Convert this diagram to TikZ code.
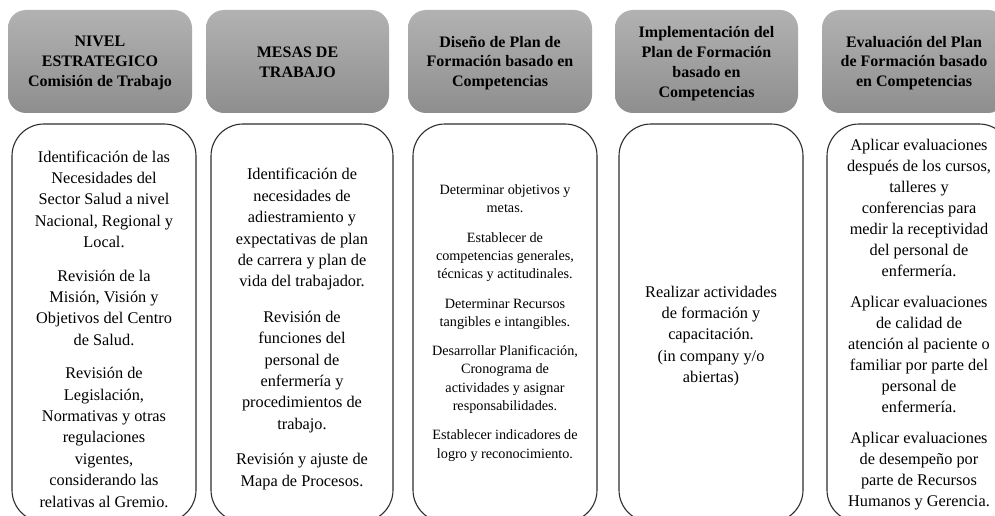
\documentclass[tikz,border=0pt]{standalone}
\usepackage{fontspec}
\setmainfont{Liberation Serif}
\definecolor{htop}{HTML}{B2B2B2}
\definecolor{hbot}{HTML}{8E8E8E}
\definecolor{edge}{HTML}{2E2E2E}
\tikzset{
  hdr/.style={rounded corners=18pt, top color=htop, bottom color=hbot, draw=none,
    minimum width=184pt, minimum height=103pt, inner sep=0pt},
  htext/.style={align=center, inner sep=0pt, font=\fontsize{16}{19.8}\selectfont\bfseries},
  cbox/.style={rounded corners=32pt, draw=edge, line width=1.1pt, fill=white,
    minimum width=184pt, minimum height=398pt, inner sep=0pt},
  ctext/.style={align=center, inner sep=0pt, font=\fontsize{16.3}{21.4}\selectfont},
  csmall/.style={align=center, inner sep=0pt, font=\fontsize{14.2}{18.3}\selectfont}
}
\begin{document}
\begin{tikzpicture}[x=1pt,y=-1pt]
\useasboundingbox (0,0) rectangle (995,516);
% headers
\node[hdr] (h1) at (100,61.5) {};
\node[hdr, minimum width=183pt] (h2) at (297.5,61.5) {};
\node[hdr] (h3) at (500,61.5) {};
\node[hdr, minimum width=183pt] (h4) at (706.5,61.5) {};
\node[hdr] (h5) at (914,61.5) {};
\node[htext] (h1t) at (100,63) {NIVEL\\ESTRATEGICO\\Comisión de Trabajo};
\node[htext] (h2t) at (297.5,62) {MESAS DE\\TRABAJO};
\node[htext] (h3t) at (500,63) {Diseño de Plan de\\Formación basado en\\Competencias};
\node[htext] (h4t) at (706.5,63.5) {Implementación del\\Plan de Formación\\basado en\\Competencias};
\node[htext] (h5t) at (914,63) {Evaluación del Plan\\de Formación basado\\en Competencias};
% content boxes
\node[cbox] (b1) at (104,323) {};
\node[cbox, minimum width=182pt] (b2) at (302,323) {};
\node[cbox] (b3) at (505,323) {};
\node[cbox] (b4) at (711,323) {};
\node[cbox] (b5) at (919,323) {};
\node[ctext] (t1) at (104,329) {Identificación de las\\Necesidades del\\Sector Salud a nivel\\Nacional, Regional y\\Local.\\[12pt]
Revisión de la\\Misión, Visión y\\Objetivos del Centro\\de Salud.\\[12pt]
Revisión de\\Legislación,\\Normativas y otras\\regulaciones\\vigentes,\\considerando las\\relativas al Gremio.};
\node[ctext] (t2) at (302,329) {Identificación de\\necesidades de\\adiestramiento y\\expectativas de plan\\de carrera y plan de\\vida del trabajador.\\[14pt]
Revisión de\\funciones del\\personal de\\enfermería y\\procedimientos de\\trabajo.\\[14pt]
Revisión y ajuste de\\Mapa de Procesos.};
\node[csmall] (t3) at (505,323) {Determinar objetivos y\\metas.\\[11pt]
Establecer de\\competencias generales,\\técnicas y actitudinales.\\[11pt]
Determinar Recursos\\tangibles e intangibles.\\[11pt]
Desarrollar Planificación,\\Cronograma de\\actividades y asignar\\responsabilidades.\\[11pt]
Establecer indicadores de\\logro y reconocimiento.};
\node[ctext] (t4) at (711,336) {Realizar actividades\\de formación y\\capacitación.\\(in company y/o\\abiertas)};
\node[ctext, font=\fontsize{16.3}{21}\selectfont] (t5) at (919,325) {Aplicar evaluaciones\\después de los cursos,\\talleres y\\conferencias para\\medir la receptividad\\del personal de\\enfermería.\\[10pt]
Aplicar evaluaciones\\de calidad de\\atención al paciente o\\familiar por parte del\\personal de\\enfermería.\\[10pt]
Aplicar evaluaciones\\de desempeño por\\parte de Recursos\\Humanos y Gerencia.};
\end{tikzpicture}
\end{document}
